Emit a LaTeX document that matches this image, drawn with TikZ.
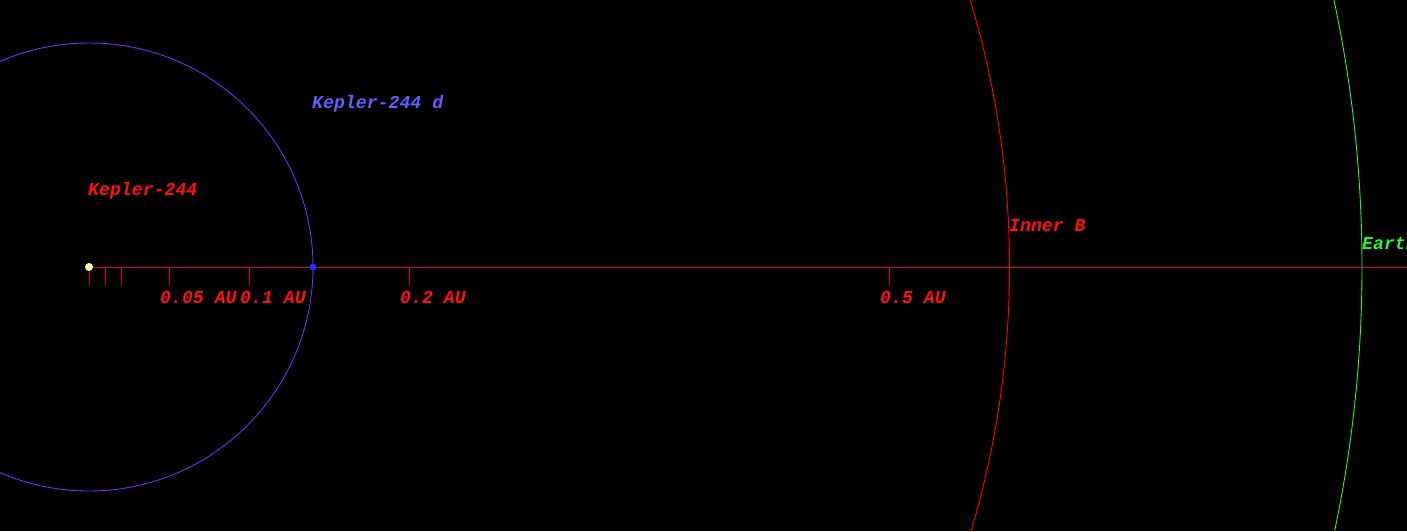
\documentclass[tikz,border=0pt]{standalone}
\usepackage{fontspec}
\setmonofont{Liberation Mono}
\definecolor{axisred}{HTML}{D01010}
\definecolor{lblred}{HTML}{FF1010}
\definecolor{orbitviolet}{HTML}{7030F0}
\definecolor{planetblue}{HTML}{2030FF}
\definecolor{dlabel}{HTML}{6060FF}
\definecolor{earthgreen}{HTML}{30F030}
\definecolor{starcol}{HTML}{FFF8B0}
\begin{document}
\begin{tikzpicture}[x=1pt,y=-1pt,
  lbl/.style={anchor=base west,inner sep=0pt,font=\fontsize{18.2}{19}\ttfamily\bfseries\itshape},
  tick/.style={draw=axisred,line width=0.8pt},
  orbit/.style={line width=0.9pt}]
\useasboundingbox (0,0) rectangle (1407,531);
\fill[black] (0,0) rectangle (1407,531);
\begin{scope}
\clip (0,0) rectangle (1407,531);
\coordinate (star) at (89,267);
\coordinate (axisend) at (1407,267);
\draw[axisred,line width=0.8pt] (star) -- (axisend);
\foreach \x in {89,105,121,169,249,409,889}{
  \draw[tick] (\x,267) -- (\x,285);
}
\draw[orbit,orbitviolet] (star) circle[radius=224];
\draw[orbit,red] (star) circle[radius=920.5];
\draw[orbit,earthgreen] (star) circle[radius=1273];
\node[circle,fill=starcol,minimum size=8pt,inner sep=0pt] (sun) at (star) {};
\node[circle,fill=planetblue,minimum size=7pt,inner sep=0pt] (planet) at (313,267) {};
\node[lbl,text=lblred] (kstar) at (88,195) {Kepler-244};
\node[lbl,text=dlabel] (kd) at (312,108) {Kepler-244 d};
\node[lbl,text=lblred] (l005) at (160,303) {0.05 AU};
\node[lbl,text=lblred] (l01) at (240,303) {0.1 AU};
\node[lbl,text=lblred] (l02) at (400,303) {0.2 AU};
\node[lbl,text=lblred] (l05) at (880,303) {0.5 AU};
\node[lbl,text=lblred] (innerb) at (1009,231) {Inner B};
\node[lbl,text=earthgreen] (earth) at (1362,249) {Earth};
\end{scope}
\end{tikzpicture}
\end{document}
